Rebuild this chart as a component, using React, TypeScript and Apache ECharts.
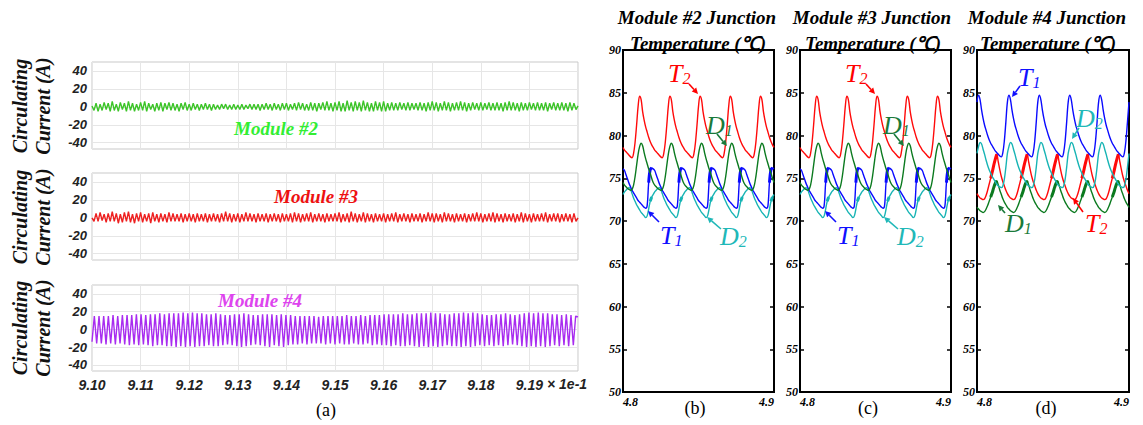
import React, { useEffect, useRef } from "react";
import * as echarts from "echarts";

// ---------- Panel (a): circulating currents (x in ms: 910..920 => 9.10..9.20 x 1e-1 s)
const currentTicks = [-40, -20, 0, 20, 40];
const timeRangeA = [910, 920];

const module2Current = [
  1, -4, 4, -5, 3, -4, 5, -3, 4, -5,
  6, -4, 3, -5, 5, -3, 4, -5, 6, -4,
  4, -5, 3, -4, 5, -4, 6, -5, 4, -3,
  3, -5, 4, -4, 5, -5, 4, -3, 5, -4,
  4, -4, 3, -5, 4, -3, 5, -4, 3, -4,
  4, -3, 3, -4, 3, -3, 4, -3, 3, -4,
  3, -3, 2, -3, 3, -2, 3, -3, 2, -3,
  3, -3, 2, -3, 3, -3, 2, -2, 3, -3,
  3, -3, 3, -4, 3, -3, 4, -3, 3, -4,
  4, -3, 3, -4, 4, -3, 4, -4, 3, -3,
  4, -4, 5, -3, 4, -4, 3, -4, 5, -4,
  4, -5, 4, -3, 5, -4, 6, -4, 4, -5,
  5, -4, 6, -5, 4, -5, 7, -4, 5, -5,
  6, -4, 5, -5, 7, -4, 5, -5, 4, -5,
  6, -4, 5, -5, 6, -5, 4, -4, 5, -4,
  4, -4, 5, -3, 4, -4, 5, -4, 4, -3,
  4, -4, 5, -4, 4, -5, 5, -4, 6, -4,
  5, -5, 4, -4, 6, -4, 5, -5, 4, -4,
  5, -4, 6, -4, 5, -5, 4, -4, 5, -3,
  4, -4, 5, -4, 4, -3, 5, -4, 4, -4,
  5, -4, 4, -5, 5, -4, 6, -4, 5, -4,
  4, -5, 5, -4, 4, -4, 5, -3, 4, -4,
  5, -4, 4, -4, 5, -5, 4, -3, 5, -4,
  4, -4, 5, -4, 4, -5, 5, -4, 4, -3,
  1,
];

const module3Current = [
  0, -4, 5, -4, 6, -3, 4, -5, 5, -4,
  7, -4, 5, -6, 4, -5, 6, -4, 7, -5,
  4, -6, 5, -4, 6, -5, 4, -4, 5, -6,
  6, -4, 4, -5, 5, -4, 4, -5, 6, -4,
  5, -4, 4, -4, 5, -5, 4, -4, 5, -4,
  4, -5, 5, -4, 4, -4, 5, -5, 4, -4,
  5, -4, 4, -5, 5, -4, 7, -4, 5, -5,
  4, -4, 5, -5, 4, -4, 6, -4, 5, -4,
  4, -5, 5, -4, 4, -4, 5, -5, 4, -4,
  5, -4, 4, -5, 5, -4, 4, -4, 5, -5,
  6, -4, 5, -5, 4, -4, 5, -4, 6, -5,
  4, -4, 5, -4, 4, -5, 5, -4, 4, -4,
  5, -4, 6, -5, 4, -4, 5, -5, 7, -4,
  5, -5, 4, -4, 6, -5, 5, -4, 4, -5,
  5, -4, 4, -4, 5, -5, 4, -4, 5, -4,
  6, -5, 4, -4, 5, -4, 4, -5, 5, -4,
  4, -4, 5, -5, 4, -4, 6, -4, 5, -5,
  5, -4, 4, -5, 6, -4, 5, -4, 4, -5,
  5, -4, 4, -4, 5, -5, 4, -4, 5, -4,
  6, -4, 5, -5, 4, -4, 5, -4, 6, -5,
  5, -4, 4, -5, 5, -4, 4, -4, 5, -5,
  4, -4, 6, -5, 5, -4, 4, -5, 5, -4,
  4, -4, 5, -4, 6, -5, 4, -4, 5, -4,
  5, -5, 4, -4, 5, -4, 4, -5, 5, -4,
  0,
];

const module4Current = [
  -14, 15, -16, 15, -16, 15, -17, 15, -16, 16,
  -17, 15, -16, 16, -17, 16, -18, 16, -17, 17,
  -18, 17, -17, 16, -18, 17, -19, 17, -18, 18,
  -18, 17, -19, 18, -19, 18, -20, 18, -19, 19,
  -20, 18, -19, 19, -20, 18, -19, 18, -19, 17,
  -18, 17, -19, 18, -19, 17, -18, 16, -17, 16,
  -18, 17, -19, 17, -20, 18, -19, 17, -18, 16,
  -17, 16, -18, 17, -19, 17, -20, 17, -18, 16,
  -19, 17, -20, 16, -18, 16, -17, 15, -17, 15,
  -16, 15, -17, 15, -16, 15, -16, 14, -16, 15,
  -17, 15, -16, 15, -17, 15, -16, 15, -17, 16,
  -17, 15, -16, 15, -17, 16, -17, 15, -16, 16,
  -18, 16, -17, 16, -18, 17, -18, 17, -19, 17,
  -18, 17, -19, 18, -19, 17, -18, 17, -19, 18,
  -20, 18, -19, 18, -20, 19, -19, 18, -20, 18,
  -19, 17, -18, 17, -19, 18, -19, 18, -20, 19,
  -19, 18, -20, 19, -19, 18, -18, 17, -19, 16,
  -18, 16, -19, 17, -18, 17, -19, 18, -18, 17,
  -17, 16, -18, 17, -19, 18, -20, 19, -19, 18,
  -20, 19, -19, 18, -20, 18, -19, 17, -18, 17,
  -19, 16, -18, 17, -19, 16, -18, 15, 14,
];

// ---------- Panels (b)(c)(d): junction temperatures, 1 ms samples from 4.800 s to 4.900 s
const tempTicks = [50, 55, 60, 65, 70, 75, 80, 85, 90];
const timeRangeT = [4800, 4900];

const m2T1 = [
  76.1, 75.9, 75.4, 74.9, 74.4, 74.0, 73.6, 73.3, 73.0, 72.7, 72.4, 72.2, 72.0, 71.8, 71.6, 71.5, 71.8, 74.5, 76.0, 76.2,
  76.1, 75.9, 75.4, 74.9, 74.4, 74.0, 73.6, 73.3, 73.0, 72.7, 72.4, 72.2, 72.0, 71.8, 71.6, 71.5, 71.8, 74.5, 76.0, 76.2,
  76.1, 75.9, 75.4, 74.9, 74.4, 74.0, 73.6, 73.3, 73.0, 72.7, 72.4, 72.2, 72.0, 71.8, 71.6, 71.5, 71.8, 74.5, 76.0, 76.2,
  76.1, 75.9, 75.4, 74.9, 74.4, 74.0, 73.6, 73.3, 73.0, 72.7, 72.4, 72.2, 72.0, 71.8, 71.6, 71.5, 71.8, 74.5, 76.0, 76.2,
  76.1, 75.9, 75.4, 74.9, 74.4, 74.0, 73.6, 73.3, 73.0, 72.7, 72.4, 72.2, 72.0, 71.8, 71.6, 71.5, 71.8, 74.5, 76.0, 76.2,
  76.1,
];
const m2T2 = [
  78.6, 78.3, 78.1, 77.9, 77.7, 77.5, 77.4, 77.9, 79.2, 81.2, 83.4, 84.6, 84.2, 82.8, 81.8, 81.0, 80.4, 79.8, 79.3, 78.9,
  78.6, 78.3, 78.1, 77.9, 77.7, 77.5, 77.4, 77.9, 79.2, 81.2, 83.4, 84.6, 84.2, 82.8, 81.8, 81.0, 80.4, 79.8, 79.3, 78.9,
  78.6, 78.3, 78.1, 77.9, 77.7, 77.5, 77.4, 77.9, 79.2, 81.2, 83.4, 84.6, 84.2, 82.8, 81.8, 81.0, 80.4, 79.8, 79.3, 78.9,
  78.6, 78.3, 78.1, 77.9, 77.7, 77.5, 77.4, 77.9, 79.2, 81.2, 83.4, 84.6, 84.2, 82.8, 81.8, 81.0, 80.4, 79.8, 79.3, 78.9,
  78.6, 78.3, 78.1, 77.9, 77.7, 77.5, 77.4, 77.9, 79.2, 81.2, 83.4, 84.6, 84.2, 82.8, 81.8, 81.0, 80.4, 79.8, 79.3, 78.9,
  78.6,
];
const m2D1 = [
  74.5, 74.2, 74.0, 73.8, 73.7, 73.6, 73.7, 74.2, 75.2, 76.5, 77.8, 78.7, 79.1, 78.8, 78.0, 77.3, 76.7, 76.1, 75.6, 75.0,
  74.5, 74.2, 74.0, 73.8, 73.7, 73.6, 73.7, 74.2, 75.2, 76.5, 77.8, 78.7, 79.1, 78.8, 78.0, 77.3, 76.7, 76.1, 75.6, 75.0,
  74.5, 74.2, 74.0, 73.8, 73.7, 73.6, 73.7, 74.2, 75.2, 76.5, 77.8, 78.7, 79.1, 78.8, 78.0, 77.3, 76.7, 76.1, 75.6, 75.0,
  74.5, 74.2, 74.0, 73.8, 73.7, 73.6, 73.7, 74.2, 75.2, 76.5, 77.8, 78.7, 79.1, 78.8, 78.0, 77.3, 76.7, 76.1, 75.6, 75.0,
  74.5, 74.2, 74.0, 73.8, 73.7, 73.6, 73.7, 74.2, 75.2, 76.5, 77.8, 78.7, 79.1, 78.8, 78.0, 77.3, 76.7, 76.1, 75.6, 75.0,
  74.5,
];
const m2D2 = [
  73.1, 73.4, 73.6, 73.8, 73.9, 73.7, 73.2, 72.7, 72.3, 71.9, 71.6, 71.3, 71.0, 70.8, 70.6, 70.4, 70.6, 71.4, 72.3, 72.8,
  73.1, 73.4, 73.6, 73.8, 73.9, 73.7, 73.2, 72.7, 72.3, 71.9, 71.6, 71.3, 71.0, 70.8, 70.6, 70.4, 70.6, 71.4, 72.3, 72.8,
  73.1, 73.4, 73.6, 73.8, 73.9, 73.7, 73.2, 72.7, 72.3, 71.9, 71.6, 71.3, 71.0, 70.8, 70.6, 70.4, 70.6, 71.4, 72.3, 72.8,
  73.1, 73.4, 73.6, 73.8, 73.9, 73.7, 73.2, 72.7, 72.3, 71.9, 71.6, 71.3, 71.0, 70.8, 70.6, 70.4, 70.6, 71.4, 72.3, 72.8,
  73.1, 73.4, 73.6, 73.8, 73.9, 73.7, 73.2, 72.7, 72.3, 71.9, 71.6, 71.3, 71.0, 70.8, 70.6, 70.4, 70.6, 71.4, 72.3, 72.8,
  73.1,
];
// Module #3 reads the same as Module #2
const m3T1 = m2T1;
const m3T2 = m2T2;
const m3D1 = m2D1;
const m3D2 = m2D2;

const m4T1 = [
  83.9, 84.7, 84.2, 83.0, 82.0, 81.2, 80.6, 80.0, 79.5, 79.1, 78.8, 78.5, 78.2, 78.0, 77.8, 77.6, 77.5, 78.0, 79.4, 81.6,
  83.9, 84.7, 84.2, 83.0, 82.0, 81.2, 80.6, 80.0, 79.5, 79.1, 78.8, 78.5, 78.2, 78.0, 77.8, 77.6, 77.5, 78.0, 79.4, 81.6,
  83.9, 84.7, 84.2, 83.0, 82.0, 81.2, 80.6, 80.0, 79.5, 79.1, 78.8, 78.5, 78.2, 78.0, 77.8, 77.6, 77.5, 78.0, 79.4, 81.6,
  83.9, 84.7, 84.2, 83.0, 82.0, 81.2, 80.6, 80.0, 79.5, 79.1, 78.8, 78.5, 78.2, 78.0, 77.8, 77.6, 77.5, 78.0, 79.4, 81.6,
  83.9, 84.7, 84.2, 83.0, 82.0, 81.2, 80.6, 80.0, 79.5, 79.1, 78.8, 78.5, 78.2, 78.0, 77.8, 77.6, 77.5, 78.0, 79.4, 81.6,
  83.9,
];
const m4D2 = [
  77.9, 78.7, 79.2, 79.0, 78.4, 77.8, 77.1, 76.5, 76.0, 75.6, 75.2, 74.9, 74.6, 74.3, 74.1, 74.0, 73.9, 74.1, 74.9, 76.3,
  77.9, 78.7, 79.2, 79.0, 78.4, 77.8, 77.1, 76.5, 76.0, 75.6, 75.2, 74.9, 74.6, 74.3, 74.1, 74.0, 73.9, 74.1, 74.9, 76.3,
  77.9, 78.7, 79.2, 79.0, 78.4, 77.8, 77.1, 76.5, 76.0, 75.6, 75.2, 74.9, 74.6, 74.3, 74.1, 74.0, 73.9, 74.1, 74.9, 76.3,
  77.9, 78.7, 79.2, 79.0, 78.4, 77.8, 77.1, 76.5, 76.0, 75.6, 75.2, 74.9, 74.6, 74.3, 74.1, 74.0, 73.9, 74.1, 74.9, 76.3,
  77.9, 78.7, 79.2, 79.0, 78.4, 77.8, 77.1, 76.5, 76.0, 75.6, 75.2, 74.9, 74.6, 74.3, 74.1, 74.0, 73.9, 74.1, 74.9, 76.3,
  77.9,
];
const m4T2 = [
  73.2, 72.9, 72.7, 72.6, 72.5, 72.6, 73.0, 73.6, 74.3, 75.0, 75.7, 76.5, 77.2, 77.8, 76.9, 76.0, 75.2, 74.6, 74.1, 73.6,
  73.2, 72.9, 72.7, 72.6, 72.5, 72.6, 73.0, 73.6, 74.3, 75.0, 75.7, 76.5, 77.2, 77.8, 76.9, 76.0, 75.2, 74.6, 74.1, 73.6,
  73.2, 72.9, 72.7, 72.6, 72.5, 72.6, 73.0, 73.6, 74.3, 75.0, 75.7, 76.5, 77.2, 77.8, 76.9, 76.0, 75.2, 74.6, 74.1, 73.6,
  73.2, 72.9, 72.7, 72.6, 72.5, 72.6, 73.0, 73.6, 74.3, 75.0, 75.7, 76.5, 77.2, 77.8, 76.9, 76.0, 75.2, 74.6, 74.1, 73.6,
  73.2, 72.9, 72.7, 72.6, 72.5, 72.6, 73.0, 73.6, 74.3, 75.0, 75.7, 76.5, 77.2, 77.8, 76.9, 76.0, 75.2, 74.6, 74.1, 73.6,
  73.2,
];
const m4D1 = [
  71.6, 71.4, 71.2, 71.1, 71.0, 71.1, 71.4, 71.8, 72.3, 72.8, 73.3, 73.9, 74.4, 74.7, 74.2, 73.6, 73.1, 72.6, 72.2, 71.9,
  71.6, 71.4, 71.2, 71.1, 71.0, 71.1, 71.4, 71.8, 72.3, 72.8, 73.3, 73.9, 74.4, 74.7, 74.2, 73.6, 73.1, 72.6, 72.2, 71.9,
  71.6, 71.4, 71.2, 71.1, 71.0, 71.1, 71.4, 71.8, 72.3, 72.8, 73.3, 73.9, 74.4, 74.7, 74.2, 73.6, 73.1, 72.6, 72.2, 71.9,
  71.6, 71.4, 71.2, 71.1, 71.0, 71.1, 71.4, 71.8, 72.3, 72.8, 73.3, 73.9, 74.4, 74.7, 74.2, 73.6, 73.1, 72.6, 72.2, 71.9,
  71.6, 71.4, 71.2, 71.1, 71.0, 71.1, 71.4, 71.8, 72.3, 72.8, 73.3, 73.9, 74.4, 74.7, 74.2, 73.6, 73.1, 72.6, 72.2, 71.9,
  71.6,
];

// switching-ripple windows (ms within each 20 ms period) where the trace is drawn thick
const rippleM2T1 = [17, 21];
const rippleM2D2 = [18, 23];
const rippleM4T2 = [9, 13];
const rippleM4D1 = [9, 13];

const COLORS = {
  t1: "#0a0aff",
  t2: "#ff0a0a",
  d1: "#0b7a1f",
  d2: "#17b4b4",
  m2: "#3cc428",
  m3: "#ee2020",
  m4: "#a82cf0",
};

const SERIF = '"Liberation Serif", "Times New Roman", serif';
const SANS = '"Liberation Sans", Arial, sans-serif';

function seriesA(arr: number[]) {
  const n = arr.length;
  return arr.map((v, i) => [timeRangeA[0] + (i * (timeRangeA[1] - timeRangeA[0])) / (n - 1), v]);
}
function seriesT(arr: number[]) {
  return arr.map((v, i) => [timeRangeT[0] + i, v]);
}
function seriesRipple(arr: number[], win: number[]) {
  return arr.map((v, i) => {
    const p = i % 20;
    const inside = p >= win[0] && p <= win[1];
    return [timeRangeT[0] + i, inside ? v : null];
  });
}

function arrow(x1: number, y1: number, x2: number, y2: number, color: string) {
  const a = Math.atan2(y2 - y1, x2 - x1);
  const L = 6;
  const W = 3;
  const bx = x2 - L * Math.cos(a);
  const by = y2 - L * Math.sin(a);
  return [
    { type: "line", z: 100, silent: true, shape: { x1, y1, x2: bx, y2: by }, style: { stroke: color, lineWidth: 1.6 } },
    {
      type: "polygon",
      z: 100,
      silent: true,
      shape: {
        points: [
          [x2, y2],
          [bx - W * Math.sin(a), by + W * Math.cos(a)],
          [bx + W * Math.sin(a), by - W * Math.cos(a)],
        ],
      },
      style: { fill: color },
    },
  ];
}

function symbol(letter: string, sub: string, x: number, y: number, color: string) {
  return {
    type: "text",
    x,
    y,
    z: 100,
    silent: true,
    style: {
      text: `{m|${letter}}{s|${sub}}`,
      align: "left",
      verticalAlign: "middle",
      fill: color,
      rich: {
        m: { fontFamily: SERIF, fontStyle: "italic", fontSize: 26, fill: color, verticalAlign: "bottom", lineHeight: 28 },
        s: { fontFamily: SERIF, fontStyle: "italic", fontSize: 16, fill: color, verticalAlign: "bottom", lineHeight: 16 },
      },
    },
  };
}

function txt(text: string, x: number, y: number, font: string, fill: string, rotation = 0, align = "center") {
  return {
    type: "text",
    x,
    y,
    z: 100,
    rotation,
    silent: true,
    style: { text, font, fill, align, verticalAlign: "middle" },
  };
}

export default function App() {
  const ref = useRef<HTMLDivElement>(null);

  useEffect(() => {
    if (!ref.current) return;
    const chart = echarts.init(ref.current, undefined, { renderer: "svg" });

    const gridsA = [
      { left: 92, top: 62, width: 486, height: 87 },
      { left: 92, top: 173, width: 486, height: 87 },
      { left: 92, top: 285, width: 486, height: 86 },
    ];
    const gridsT = [
      { left: 623, top: 50, width: 151, height: 342 },
      { left: 800, top: 50, width: 151, height: 342 },
      { left: 977, top: 50, width: 152, height: 342 },
    ];
    const grid = [
      ...gridsA.map((g) => ({ ...g, show: true, borderColor: "#c9c9c9", borderWidth: 1, backgroundColor: "transparent" })),
      ...gridsT.map((g) => ({ ...g, show: true, borderColor: "#000", borderWidth: 2, backgroundColor: "transparent" })),
    ];

    const xAxis: any[] = [];
    const yAxis: any[] = [];
    const labelA = { fontFamily: SANS, fontWeight: "bold", fontStyle: "italic", color: "#222" };
    const labelT = { fontFamily: SERIF, fontWeight: "bold", fontStyle: "italic", color: "#000", fontSize: 12 };

    for (let i = 0; i < 3; i++) {
      xAxis.push({
        type: "value",
        gridIndex: i,
        min: timeRangeA[0],
        max: timeRangeA[1],
        interval: 1,
        axisLine: { show: false },
        axisTick: { show: false },
        splitLine: { show: true, lineStyle: { color: "#e6e6e6", width: 1 } },
        axisLabel: {
          show: i === 2,
          ...labelA,
          fontSize: 14,
          margin: 7,
          formatter: (v: number) => (v >= 919.5 ? "" : (v / 100).toFixed(2)),
        },
      });
      yAxis.push({
        type: "value",
        gridIndex: i,
        min: -47,
        max: 50,
        axisLine: { show: false },
        axisTick: { show: false, customValues: currentTicks },
        axisLabel: { ...labelA, fontSize: 13, margin: 5, customValues: currentTicks },
        splitLine: { show: true, lineStyle: { color: "#e6e6e6", width: 1 } },
      });
    }
    for (let j = 0; j < 3; j++) {
      const gi = 3 + j;
      xAxis.push({
        type: "value",
        gridIndex: gi,
        min: timeRangeT[0],
        max: timeRangeT[1],
        interval: 100,
        axisLine: { show: true, lineStyle: { color: "#000", width: 2 } },
        axisTick: { show: false },
        splitLine: { show: false },
        axisLabel: {
          ...labelT,
          margin: 4,
          alignMinLabel: "left",
          alignMaxLabel: "right",
          formatter: (v: number) => (v / 1000).toFixed(1),
        },
      });
      yAxis.push({
        type: "value",
        gridIndex: gi,
        min: tempTicks[0],
        max: tempTicks[tempTicks.length - 1],
        interval: 5,
        axisLine: { show: true, lineStyle: { color: "#000", width: 2 } },
        axisTick: { show: true, inside: true, length: 4, lineStyle: { color: "#000", width: 1.5 } },
        axisLabel: { ...labelT, margin: 2 },
        splitLine: { show: false },
      });
      yAxis.push({
        type: "value",
        gridIndex: gi,
        position: "right",
        min: tempTicks[0],
        max: tempTicks[tempTicks.length - 1],
        interval: 5,
        axisLine: { show: true, lineStyle: { color: "#000", width: 2 } },
        axisTick: { show: true, inside: true, length: 4, lineStyle: { color: "#000", width: 1.5 } },
        axisLabel: { show: false },
        splitLine: { show: false },
      });
    }

    const lineA = (data: number[], idx: number, color: string) => ({
      type: "line",
      xAxisIndex: idx,
      yAxisIndex: idx,
      data: seriesA(data),
      showSymbol: false,
      silent: true,
      lineStyle: { color, width: 1.4 },
      itemStyle: { color },
    });
    const lineT = (data: any[], panel: number, color: string, width = 1.4) => ({
      type: "line",
      xAxisIndex: 3 + panel,
      yAxisIndex: 3 + panel * 2,
      data,
      showSymbol: false,
      silent: true,
      smooth: 0.35,
      connectNulls: false,
      lineStyle: { color, width },
      itemStyle: { color },
    });

    const series = [
      lineA(module2Current, 0, COLORS.m2),
      lineA(module3Current, 1, COLORS.m3),
      lineA(module4Current, 2, COLORS.m4),
      lineT(seriesT(m2D2), 0, COLORS.d2),
      lineT(seriesRipple(m2D2, rippleM2D2), 0, COLORS.d2, 3),
      lineT(seriesT(m2T1), 0, COLORS.t1),
      lineT(seriesRipple(m2T1, rippleM2T1), 0, COLORS.t1, 3),
      lineT(seriesT(m2D1), 0, COLORS.d1),
      lineT(seriesT(m2T2), 0, COLORS.t2),
      lineT(seriesT(m3D2), 1, COLORS.d2),
      lineT(seriesRipple(m3D2, rippleM2D2), 1, COLORS.d2, 3),
      lineT(seriesT(m3T1), 1, COLORS.t1),
      lineT(seriesRipple(m3T1, rippleM2T1), 1, COLORS.t1, 3),
      lineT(seriesT(m3D1), 1, COLORS.d1),
      lineT(seriesT(m3T2), 1, COLORS.t2),
      lineT(seriesT(m4D1), 2, COLORS.d1),
      lineT(seriesRipple(m4D1, rippleM4D1), 2, COLORS.d1, 3),
      lineT(seriesT(m4T2), 2, COLORS.t2),
      lineT(seriesRipple(m4T2, rippleM4T2), 2, COLORS.t2, 3),
      lineT(seriesT(m4D2), 2, COLORS.d2),
      lineT(seriesT(m4T1), 2, COLORS.t1),
    ];

    const yTitleFont = `bold italic 20px ${SERIF}`;
    const modFont = `bold italic 19px ${SERIF}`;
    const titleFont = `bold italic 19px ${SERIF}`;
    const capFont = `18px ${SERIF}`;
    const graphic: any[] = [];
    [106, 217, 328].forEach((cy) => {
      graphic.push(txt("Circulating", 20, cy, yTitleFont, "#111", Math.PI / 2));
      graphic.push(txt("Current (A)", 43, cy, yTitleFont, "#111", Math.PI / 2));
    });
    graphic.push(txt("Module #2", 276, 128, modFont, "#33ee33"));
    graphic.push(txt("Module #3", 316, 196, modFont, "#ee1111"));
    graphic.push(txt("Module #4", 260, 300, modFont, "#dd44ee"));
    graphic.push(txt("× 1e-1", 547, 384, `bold italic 14px ${SANS}`, "#222", 0, "left"));
    graphic.push(txt("(a)", 326, 410, capFont, "#000"));

    const titleX = [697, 872, 1047];
    ["Module #2 Junction", "Module #3 Junction", "Module #4 Junction"].forEach((t, k) => {
      graphic.push(txt(t, titleX[k], 17, titleFont, "#000"));
      graphic.push(txt("Temperature (℃)", titleX[k] + 1, 43, titleFont, "#000"));
    });
    graphic.push(txt("(b)", 695, 408, capFont, "#000"));
    graphic.push(txt("(c)", 868, 408, capFont, "#000"));
    graphic.push(txt("(d)", 1046, 408, capFont, "#000"));

    const LT2 = "#ff0000";
    const LD1 = "#1a7a3a";
    const LT1 = "#1010ff";
    const LD2 = "#20b8b8";
    [0, 177].forEach((dx) => {
      graphic.push(symbol("T", "2", 668 + dx, 72, LT2));
      graphic.push(...arrow(689 + dx, 84, 698 + dx, 94, LT2));
      graphic.push(symbol("D", "1", 706 + dx, 124, LD1));
      graphic.push(...arrow(717 + dx, 134, 727 + dx, 146, LD1));
      graphic.push(symbol("T", "1", 660 + dx, 234, LT1));
      graphic.push(...arrow(659 + dx, 222, 648 + dx, 211, LT1));
      graphic.push(symbol("D", "2", 720 + dx, 235, LD2));
      graphic.push(...arrow(721 + dx, 229, 707 + dx, 217, LD2));
    });
    graphic.push(symbol("T", "1", 1018, 76, LT1));
    graphic.push(...arrow(1020, 86, 1012, 97, LT1));
    graphic.push(symbol("D", "2", 1076, 117, LD2));
    graphic.push(...arrow(1079, 128, 1072, 139, LD2));
    graphic.push(symbol("D", "1", 1005, 222, LD1));
    graphic.push(...arrow(1005, 213, 998, 205, LD1));
    graphic.push(symbol("T", "2", 1085, 222, LT2));
    graphic.push(...arrow(1083, 212, 1073, 198, LT2));

    chart.setOption({
      animation: false,
      backgroundColor: "#fff",
      grid,
      xAxis,
      yAxis,
      series,
      graphic,
    });
    return () => chart.dispose();
  }, []);

  return <div ref={ref} style={{ position: "fixed", left: 0, top: 0, width: 1143, height: 425 }} />;
}
